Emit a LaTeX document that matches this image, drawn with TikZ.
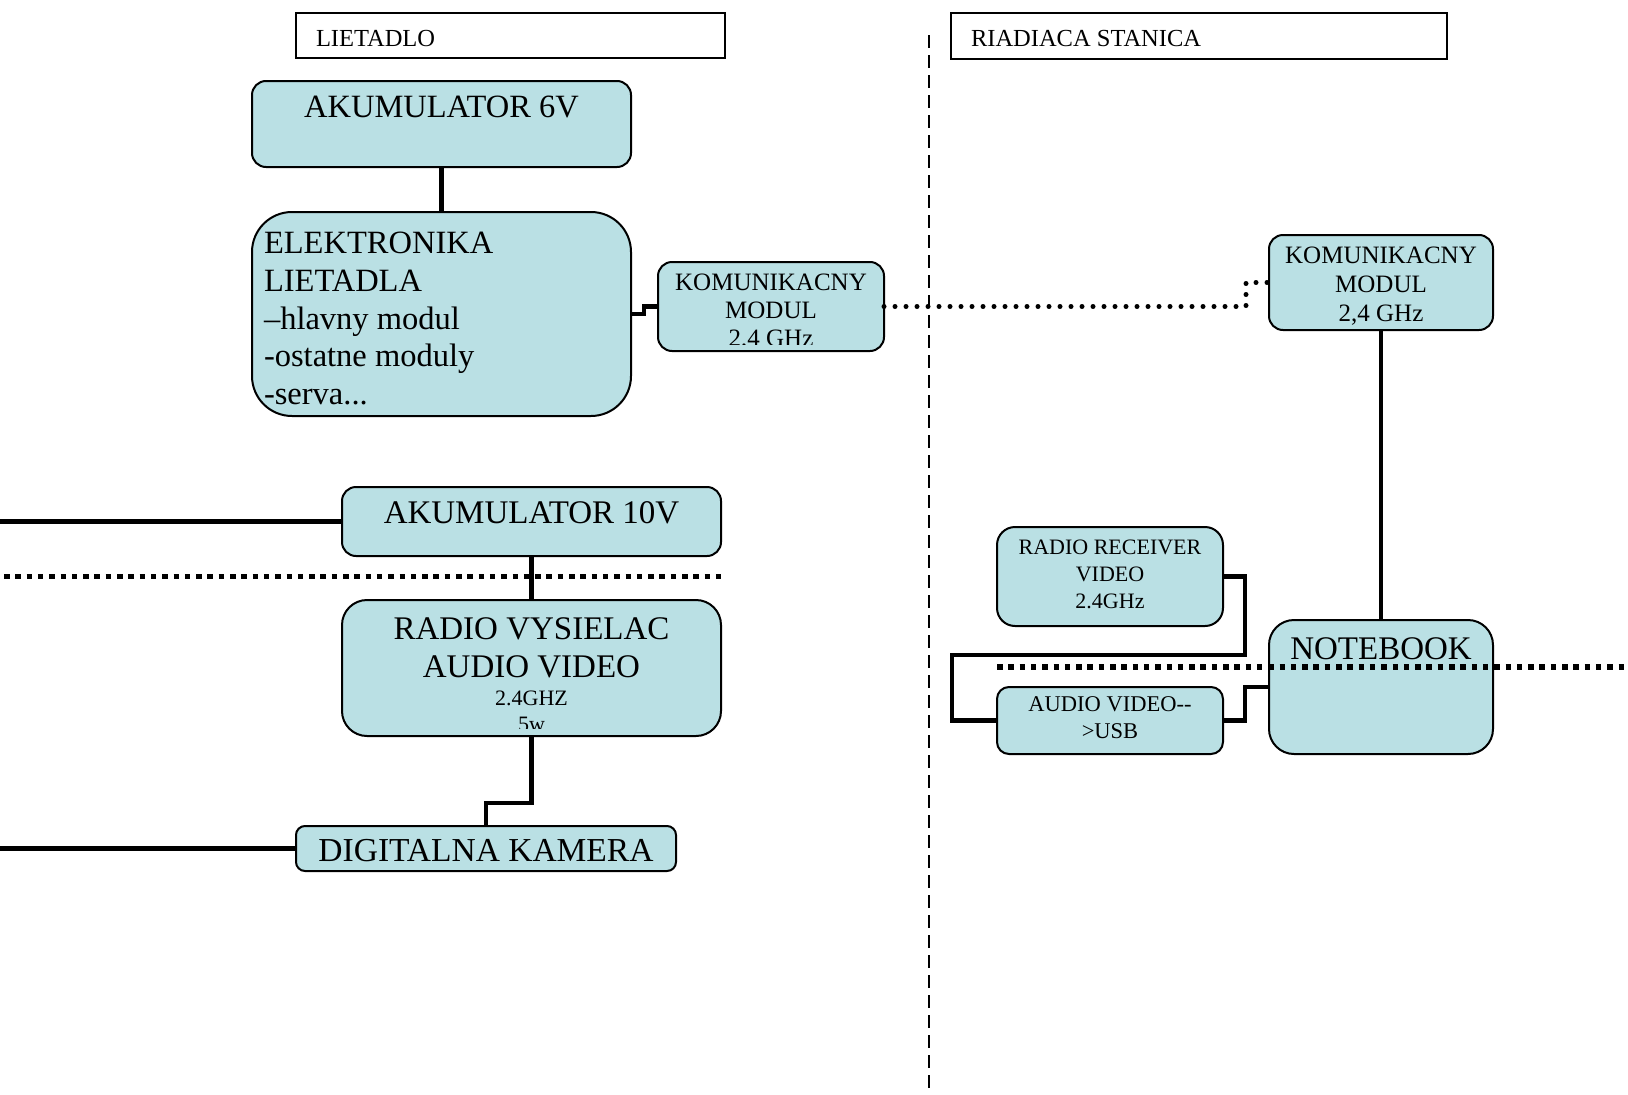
\documentclass[tikz,border=0pt]{standalone}
\usepackage{fontspec}
\setmainfont{Liberation Serif}
\usetikzlibrary{calc}
\definecolor{boxfill}{RGB}{186,224,228}
\newcommand\setfs[2]{\fontsize{#1pt}{#2pt}\selectfont}
\begin{document}
\begin{tikzpicture}[x=1pt,y=-1pt,
  box/.style={draw=black, line width=2pt, fill=boxfill, rounded corners=#1, inner sep=0pt, outer sep=0pt},
  box/.default=14pt,
  header/.style={draw=black, line width=1.6pt, fill=white, inner sep=0pt, outer sep=0pt},
  wire/.style={line width=4.5pt, line join=miter},
  radiolink/.style={line width=5pt, line cap=round, dash pattern=on 0pt off 11pt},
  boundary/.style={line width=5.5pt, dash pattern=on 5.5pt off 5.8pt},
  divider/.style={line width=1.6pt, dash pattern=on 13pt off 7pt},
  txt/.style={inner sep=0pt, outer sep=0pt, text=black}]
\useasboundingbox[fill=white] (0,0) rectangle (1628,1095);

% section divider
\coordinate (divtop) at (929,35);
\coordinate (divbot) at (929,1095);
\draw[divider] (divtop) -- (divbot);

% headers
\node[header, minimum width=429pt, minimum height=45pt] (hdrL) at (510.5,35.5) {};
\node[header, minimum width=496pt, minimum height=46pt] (hdrR) at (1199,36) {};
\node[txt, anchor=base west, font=\setfs{24.5}{29}] (hdrLt) at (316,46.5) {LIETADLO};
\node[txt, anchor=base west, font=\setfs{24.5}{29}] (hdrRt) at (971,46.5) {RIADIACA STANICA};

% boxes
\node[box=14pt, minimum width=379pt, minimum height=86pt] (akum6) at (441.5,124) {};
\node[box=40pt, minimum width=379pt, minimum height=204pt] (elek) at (441.5,314) {};
\node[box=14pt, minimum width=226pt, minimum height=89pt] (kom1) at (771,306.5) {};
\node[box=14pt, minimum width=224pt, minimum height=95pt] (kom2) at (1381,282.5) {};
\node[box=14pt, minimum width=379pt, minimum height=69pt] (akum10) at (531.5,521.5) {};
\node[box=25pt, minimum width=379pt, minimum height=136pt] (radio) at (531.5,668) {};
\node[box=9pt, minimum width=380pt, minimum height=45pt] (kamera) at (486,848.5) {};
\node[box=18pt, minimum width=226pt, minimum height=99pt] (recv) at (1110,576.5) {};
\node[box=12pt, minimum width=226pt, minimum height=67pt] (av) at (1110,720.5) {};
\node[box=25pt, minimum width=224pt, minimum height=134pt] (notebook) at (1381,687) {};

% texts
\node[txt, anchor=base, font=\setfs{32.5}{37}] (akum6t) at (441.5,117.5) {AKUMULATOR 6V};
\node[txt, anchor=north west, align=left, font=\setfs{32.5}{37.8}] (elekt) at (264,232)
  {ELEKTRONIKA\\LIETADLA\\–hlavny modul\\-ostatne moduly\\-serva...};
\begin{scope}
  \clip (kom1.north west) rectangle ($(kom1.south east)+(0,-7)$);
  \node[txt, anchor=north, align=center, font=\setfs{25}{28.3}] (kom1t) at (771,273.5)
    {KOMUNIKACNY\\MODUL\\2,4 GHz};
\end{scope}
\node[txt, anchor=north, align=center, font=\setfs{25}{29}] (kom2t) at (1381,247)
  {KOMUNIKACNY\\MODUL\\2,4 GHz};
\node[txt, anchor=base, font=\setfs{33}{38}] (akum10t) at (531.5,523.5) {AKUMULATOR 10V};
\node[txt, anchor=north, align=center, font=\setfs{33}{38.4}] (radiot) at (531.5,617.5)
  {RADIO VYSIELAC\\AUDIO VIDEO};
\begin{scope}
  \clip (radio.north west) rectangle ($(radio.south east)+(0,-8)$);
  \node[txt, anchor=north, align=center, font=\setfs{22}{26}] (radiot2) at (531.5,691)
    {2.4GHZ\\5w};
\end{scope}
\node[txt, anchor=base, font=\setfs{33.5}{38}] (kamerat) at (486,861) {DIGITALNA KAMERA};
\node[txt, anchor=north, align=center, font=\setfs{22}{27}] (recvt) at (1110,540)
  {RADIO RECEIVER\\VIDEO\\2.4GHz};
\node[txt, anchor=north, align=center, font=\setfs{22.5}{27}] (avt) at (1110,697)
  {AUDIO VIDEO-{}-\\>USB};
\node[txt, anchor=base, font=\setfs{33}{38}] (notebookt) at (1381,659.5) {NOTEBOOK};

% connectors
\draw[wire] (akum6.south) -- (elek.north);
\draw[wire] (elek.east) -- ++(13,0) |- (kom1.west);
\draw[radiolink] (kom1.east) -- ++(362,0) |- (kom2.west);
\draw[wire] (akum10.south) -- (radio.north);
\draw[wire] (radio.south) -- ++(0,67) -| (kamera.north);
\coordinate (edgeA) at (0,521.5);
\coordinate (edgeB) at (0,848.5);
\draw[wire] (edgeA) -- (akum10.west);
\draw[wire] (edgeB) -- (kamera.west);
\draw[wire] (kom2.south) -- (notebook.north);
\draw[wire] (recv.east) -- ++(22,0) |- (952,655) |- (av.west);
\draw[wire] (av.east) -- ++(22,0) |- (notebook.west);

% boundaries
\coordinate (bndA1) at (4,576.5);
\coordinate (bndA2) at (722,576.5);
\coordinate (bndB1) at (997,667);
\coordinate (bndB2) at (1628,667);
\draw[boundary] (bndA1) -- (bndA2);
\draw[boundary] (bndB1) -- (bndB2);
\end{tikzpicture}
\end{document}
